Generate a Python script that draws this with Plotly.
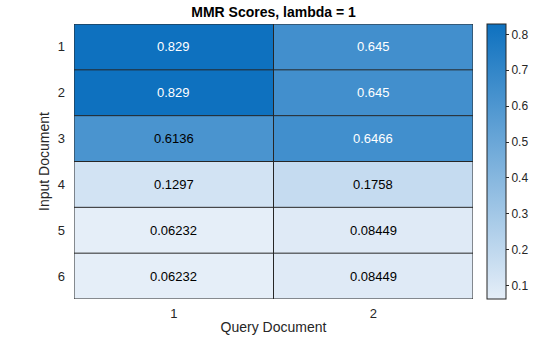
import plotly.graph_objects as go

# MMR scores for each input document (rows) against each query document (columns)
query_docs = [1, 2]
input_docs = [1, 2, 3, 4, 5, 6]
scores_q1 = [0.829, 0.829, 0.6136, 0.1297, 0.06232, 0.06232]
scores_q2 = [0.645, 0.645, 0.6466, 0.1758, 0.08449, 0.08449]
cell_labels_q1 = ["0.829", "0.829", "0.6136", "0.1297", "0.06232", "0.06232"]
cell_labels_q2 = ["0.645", "0.645", "0.6466", "0.1758", "0.08449", "0.08449"]
colorbar_ticks = [0.1, 0.2, 0.3, 0.4, 0.5, 0.6, 0.7, 0.8]

z = [[a, b] for a, b in zip(scores_q1, scores_q2)]
labels = [[a, b] for a, b in zip(cell_labels_q1, cell_labels_q2)]
zmin = min(scores_q1 + scores_q2)
zmax = max(scores_q1 + scores_q2)

blue_scale = [[0.0, "rgb(229,238,248)"], [1.0, "rgb(14,113,191)"]]

FONT = "Liberation Sans, Arial"
DARK = "#262626"

fig = go.Figure()
fig.add_trace(go.Heatmap(
    x=query_docs, y=input_docs, z=z,
    zmin=zmin, zmax=zmax, colorscale=blue_scale,
    hoverinfo="skip",
    colorbar=dict(
        x=1 + 14 / 399, xanchor="left", xpad=0, ypad=0,
        y=0, yanchor="bottom", len=1, lenmode="fraction",
        thickness=19, outlinewidth=1, outlinecolor=DARK,
        tickvals=colorbar_ticks, ticks="outside", ticklen=3, tickcolor=DARK,
        tickfont=dict(family=FONT, size=12, color=DARK),
    ),
))

# Cell value text, white on dark cells and black on light cells
for i, row in enumerate(z):
    for j, v in enumerate(row):
        fig.add_annotation(
            x=query_docs[j], y=input_docs[i], text=labels[i][j], showarrow=False,
            font=dict(family=FONT, size=13,
                      color="white" if v > 0.63 else "black"),
        )

# Grid lines between cells
line_style = dict(color=DARK, width=1)
for k in range(len(query_docs) + 1):
    xv = query_docs[0] - 0.5 + k
    fig.add_shape(type="line", x0=xv, x1=xv, y0=input_docs[0] - 0.5,
                  y1=input_docs[-1] + 0.5, xref="x", yref="y", line=line_style)
for k in range(len(input_docs) + 1):
    yv = input_docs[0] - 0.5 + k
    fig.add_shape(type="line", y0=yv, y1=yv, x0=query_docs[0] - 0.5,
                  x1=query_docs[-1] + 0.5, xref="x", yref="y", line=line_style)

axis_font = dict(family=FONT, size=13, color=DARK)
title_font = dict(family=FONT, size=14, color=DARK)
fig.update_layout(
    width=560, height=337,
    margin=dict(l=74, r=87, t=24, b=38, autoexpand=False),
    paper_bgcolor="white", plot_bgcolor="white",
    title=dict(text="<b>MMR Scores, lambda = 1</b>", x=(74 + 473) / 2 / 560, xanchor="center",
               y=1 - 12 / 337, yanchor="middle",
               font=dict(family=FONT, size=14, color="black")),
    xaxis=dict(tickvals=query_docs, ticktext=[str(v) for v in query_docs],
               range=[query_docs[0] - 0.5, query_docs[-1] + 0.5],
               showgrid=False, zeroline=False, ticks="", tickfont=axis_font,
               ticklabelstandoff=5, automargin=False,
               title=dict(text="Query Document", font=title_font, standoff=2)),
    yaxis=dict(tickvals=input_docs, ticktext=[str(v) for v in input_docs],
               range=[input_docs[-1] + 0.5, input_docs[0] - 0.5],
               showgrid=False, zeroline=False, ticks="", tickfont=axis_font, ticklabelstandoff=8,
               automargin=False,
               title=dict(text="Input Document", font=title_font, standoff=4)),
    font=dict(family=FONT),
)

fig.write_html("out.html")
